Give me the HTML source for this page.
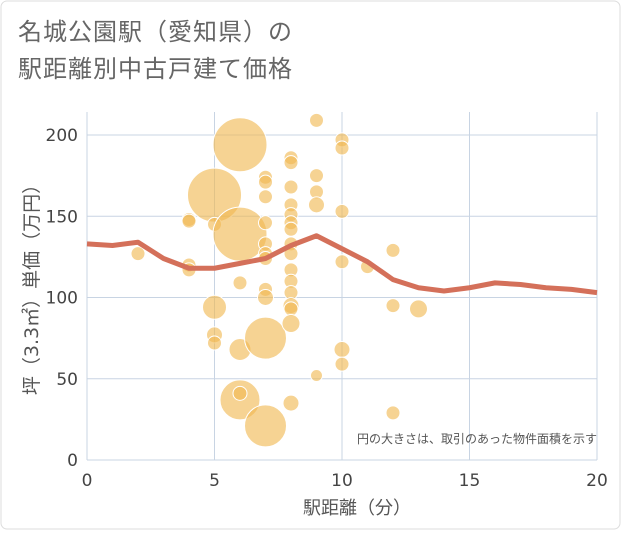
<!DOCTYPE html>
<html><head><meta charset="utf-8"><style>
body{margin:0;background:#fff;font-family:"Liberation Sans","Noto Sans CJK JP",sans-serif;}
#wrap{position:relative;width:621px;height:530px;}
</style></head><body>
<div id="wrap">
<svg id="svg" width="621" height="530" xmlns="http://www.w3.org/2000/svg" font-family="DejaVu Sans, Noto Sans CJK JP, sans-serif">
<rect x="1" y="1" width="619" height="528" rx="6" fill="#fff" stroke="#ddd"/>
<text x="18" y="40" font-size="24" letter-spacing="1" fill="#666">名城公園駅（愛知県）の</text>
<text x="18" y="77" font-size="24" letter-spacing="1" fill="#666">駅距離別中古戸建て価格</text>
<g id="grid"></g><g id="bubbles"></g><g id="line"></g><g id="axes"></g>
<text x="597" y="443" font-size="12" fill="#555" text-anchor="end">円の大きさは、取引のあった物件面積を示す</text>
<text x="357" y="514" font-size="18" fill="#555" text-anchor="middle">駅距離（分）</text>
<text transform="translate(38,285) rotate(-90)" font-size="19" fill="#555" text-anchor="middle">坪（3.3㎡）単価（万円）</text>
</svg></div>
<script>
const xTicks=[0,5,10,15,20];
const yTicks=[0,50,100,150,200];
const bubbleX=[2,4,4,4,4,5,5,5,5,5,6,6,6,6,6,6,7,7,7,7,7,7,7,7,7,7,7,8,8,8,8,8,8,8,8,8,8,8,8,8,8,8,8,9,9,9,9,9,10,10,10,10,10,10,11,12,12,12,13];
const bubbleY=[127,148,147,120,117,163,94,77,72,145,194,139,68,37,41,109,174,171,162,146,133,127,124,105,100,75,21,186,183,168,157,151,146,142,133,127,117,110,103,95,93,84,35,209,175,165,157,52,197,192,153,122,68,59,119,129,95,29,93];
const bubbleR=[7,7,7,7,7,27,12,8,7,7,27,27,11,20,7,7,7,7,7,7,7,7,7,7,8,21,21,7,7,7,7,7,7,7,7,7,7,7,7,8,7,9,8,7,7,7,8,6,7,7,7,7,8,7,7,7,7,7,9];
const lineX=[0,1,2,3,4,5,6,7,8,9,10,11,12,13,14,15,16,17,18,19,20];
const lineY=[133,132,134,124,118,118,121,124,132,138,130,122,111,106,104,106,109,108,106,105,103];
const NS="http://www.w3.org/2000/svg";
const X0=87,X1=597,Y0=460,Y1=135;
const sx=v=>X0+(X1-X0)*v/20, sy=v=>Y0-(Y0-Y1)*v/200;
function mk(t,a,p){const e=document.createElementNS(NS,t);for(const k in a)e.setAttribute(k,a[k]);p.appendChild(e);return e;}
const grid=document.getElementById('grid'),axes=document.getElementById('axes');
xTicks.forEach(t=>{const l=mk('line',{x1:sx(t),x2:sx(t),y1:112,y2:Y0,stroke:'#c8d4e3','stroke-width':1},grid);


const tx=mk('text',{x:sx(t),y:486,'font-size':17,fill:'#444','text-anchor':'middle'},axes);tx.textContent=t;

});
yTicks.forEach(t=>{const l=mk('line',{x1:X0,x2:X1,y1:sy(t),y2:sy(t),stroke:'#c8d4e3','stroke-width':1},grid);


const tx=mk('text',{x:78,y:sy(t)+6,'font-size':17,fill:'#444','text-anchor':'end'},axes);tx.textContent=t;

});
const bg=document.getElementById('bubbles');
bubbleX.forEach((x,i)=>{const c=mk('circle',{cx:sx(x),cy:sy(bubbleY[i]),r:bubbleR[i],fill:'#f0b850','fill-opacity':0.62,stroke:'#fff','stroke-width':1},bg);

});
const p=mk('polyline',{points:lineX.map((x,i)=>sx(x)+','+sy(lineY[i])).join(' '),fill:'none',stroke:'#d4705a','stroke-width':5,'stroke-linejoin':'round'},document.getElementById('line'));


</script>
</body></html>
